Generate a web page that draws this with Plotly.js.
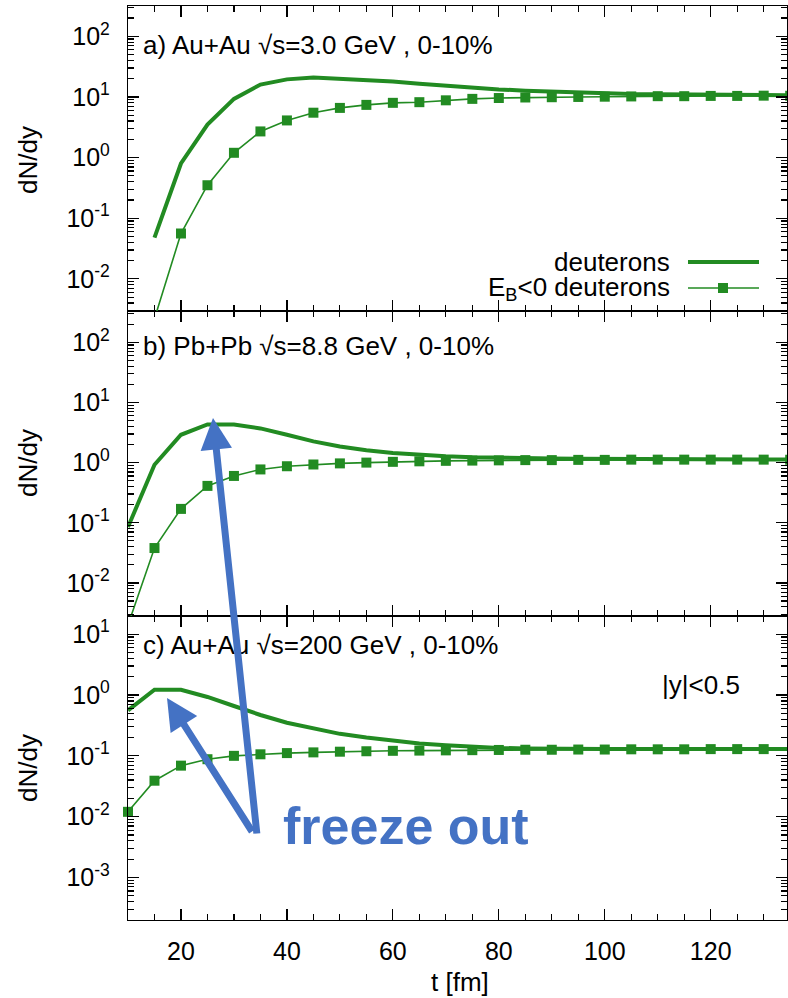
<!DOCTYPE html>
<html><head><meta charset="utf-8">
<script src="https://cdn.plot.ly/plotly-3.0.1.min.js"></script>
<style>html,body{margin:0;padding:0;background:#fff}#chart{width:788px;height:998px}</style>
</head><body><div id="chart"></div>
<script>
// ---- data ----
const tA = [15,20,25,30,35,40,45,50,55,60,65,70,75,80,85,90,95,100,105,110,115,120,125,130,135];
const tBC = [10,15,20,25,30,35,40,45,50,55,60,65,70,75,80,85,90,95,100,105,110,115,120,125,130,135];

const deutA = [0.048,0.8,3.5,9.3,16,19.5,21,20,19,18,16.5,15.2,14.2,13.3,12.7,12.2,11.8,11.4,11.2,11.1,11.0,10.9,10.8,10.8,10.7];
const ebA   = [0.0022,0.056,0.35,1.2,2.7,4.1,5.5,6.6,7.4,8.0,8.2,8.8,9.3,9.6,9.8,9.9,10.0,10.1,10.2,10.3,10.3,10.4,10.4,10.5,10.5];

const deutB = [0.085,0.92,2.9,4.3,4.3,3.7,2.9,2.25,1.85,1.6,1.45,1.35,1.28,1.23,1.2,1.18,1.17,1.16,1.15,1.15,1.14,1.14,1.13,1.13,1.13,1.13];
const ebB   = [0.002,0.038,0.17,0.41,0.6,0.77,0.87,0.93,0.97,1.0,1.03,1.05,1.07,1.08,1.09,1.1,1.1,1.11,1.11,1.12,1.12,1.12,1.12,1.12,1.12,1.12];

const deutC = [0.56,1.22,1.22,0.93,0.66,0.47,0.35,0.28,0.23,0.2,0.18,0.16,0.15,0.14,0.135,0.132,0.13,0.13,0.13,0.13,0.13,0.13,0.13,0.13,0.13,0.13];
const ebC   = [0.012,0.039,0.069,0.088,0.1,0.106,0.111,0.114,0.117,0.119,0.121,0.122,0.123,0.124,0.125,0.126,0.126,0.127,0.127,0.128,0.128,0.128,0.129,0.129,0.129,0.13];

const xTickVals = [20,40,60,80,100,120];
const xTickText = ['20','40','60','80','100','120'];
const yTickValsAB = [0.01,0.1,1,10,100];
const yTickTextAB = ['10<sup>-2</sup>','10<sup>-1</sup>','10<sup>0</sup>','10<sup>1</sup>','10<sup>2</sup>'];
const yTickValsC = [0.001,0.01,0.1,1,10];
const yTickTextC = ['10<sup>-3</sup>','10<sup>-2</sup>','10<sup>-1</sup>','10<sup>0</sup>','10<sup>1</sup>'];

const panelTitles = ['a) Au+Au \u221As=3.0 GeV , 0-10%','b) Pb+Pb \u221As=8.8 GeV , 0-10%','c) Au+Au \u221As=200 GeV , 0-10%'];
const legendNames = ['deuterons','E<sub>B</sub><0 deuterons'];

// ---- style ----
const GREEN = '#228B22';
const BLUE = '#4472C4';
const FONT = '"Liberation Sans", Arial, Helvetica, sans-serif';
const TXT = 26;

function minorVals(lo, hi){
  const out=[];
  for(let e=lo;e<=hi;e++){ for(let m=2;m<=9;m++){ out.push(m*Math.pow(10,e)); } }
  return out;
}

function thick(x,y,xa,ya){ return {x:x,y:y,xaxis:xa,yaxis:ya,mode:'lines',line:{color:GREEN,width:4},showlegend:false}; }
function thin(x,y,xa,ya,clip){ return {x:x,y:y,xaxis:xa,yaxis:ya,mode:'lines+markers',line:{color:GREEN,width:1.6},marker:{symbol:'square',size:10,color:GREEN},cliponaxis:clip,showlegend:false}; }

const traces = [
  thick(tA,deutA,'x3','y3'), thin(tA,ebA,'x3','y3',true),
  thick(tBC,deutB,'x2','y2'), thin(tBC,ebB,'x2','y2',true),
  thick(tBC,deutC,'x','y'), thin(tBC,ebC,'x','y',false)
];

function xax(anchor, labels){
  return {anchor:anchor, range:[10,134.4], showline:true, linecolor:'#000', linewidth:1.2, mirror:'allticks',
    ticks:'inside', ticklen:11, tickwidth:1.2, tickcolor:'#000', tickmode:'array', tickvals:xTickVals, ticktext:xTickText,
    showticklabels:labels, showgrid:false, zeroline:false, ticklabelstandoff:9,
    minor:{tickmode:'linear', tick0:0, dtick:5, ticks:'inside', ticklen:6, tickwidth:1.2, tickcolor:'#000', showgrid:false},
    tickfont:{family:FONT,size:25,color:'#000'}, fixedrange:true};
}
function yax(domain, range, tv, tt, lo, hi){
  return {domain:domain, type:'log', range:range, showline:true, linecolor:'#000', linewidth:1.2, mirror:'allticks',
    ticks:'inside', ticklen:11, tickwidth:1.2, tickcolor:'#000', tickmode:'array', tickvals:tv, ticktext:tt,
    showgrid:false, zeroline:false, ticklabelstandoff:12,
    minor:{tickmode:'array', tickvals:minorVals(lo,hi), ticks:'inside', ticklen:6, tickwidth:1.2, tickcolor:'#000', showgrid:false},
    tickfont:{family:FONT,size:25,color:'#000'}, fixedrange:true};
}

// paper coordinate helpers (plot area 128..787 x, 6..920 y)
const PX = p => (p-128)/659;
const PY = p => (920-p)/914;

function label(text, x, y, xanchor, size, extra){
  return Object.assign({text:text, xref:'paper', yref:'paper', x:PX(x), y:PY(y), xanchor:xanchor, yanchor:'middle', showarrow:false, font:{family:FONT,size:size,color:'#000'}}, extra||{});
}

const annotations = [
  label(panelTitles[0], 141, 45, 'left', TXT),
  label(panelTitles[1], 141, 346, 'left', TXT),
  label(panelTitles[2], 141, 645, 'left', TXT),
  label('|y|<0.5', 701, 685, 'center', TXT),
  label(legendNames[0], 672, 262, 'right', TXT),
  label(legendNames[1], 672, 288, 'right', TXT),
  label('dN/dy', 28, 160, 'center', TXT, {textangle:-90}),
  label('dN/dy', 28, 463, 'center', TXT, {textangle:-90}),
  label('dN/dy', 28, 768, 'center', TXT, {textangle:-90}),
  label('t [fm]', 460, 982, 'center', TXT),
  {text:'<b>freeze out</b>', xref:'paper', yref:'paper', x:PX(406), y:PY(826), xanchor:'center', yanchor:'middle', showarrow:false, font:{family:FONT,size:52,color:BLUE}},
  {text:'', xref:'paper', yref:'paper', x:PX(213), y:PY(418), ax:44, ay:417, axref:'pixel', ayref:'pixel', showarrow:true, arrowhead:2, arrowsize:0.9, arrowwidth:7, arrowcolor:BLUE, standoff:0},
  {text:'', xref:'paper', yref:'paper', x:PX(167), y:PY(698), ax:86, ay:135, axref:'pixel', ayref:'pixel', showarrow:true, arrowhead:2, arrowsize:0.9, arrowwidth:7, arrowcolor:BLUE, standoff:0}
];

const shapes = [
  {type:'line', xref:'paper', yref:'paper', x0:PX(688), x1:PX(759), y0:PY(262), y1:PY(262), line:{color:GREEN,width:4}},
  {type:'line', xref:'paper', yref:'paper', x0:PX(688), x1:PX(759), y0:PY(288), y1:PY(288), line:{color:GREEN,width:1.6}},
  {type:'rect', xref:'paper', yref:'paper', x0:PX(718), x1:PX(728), y0:PY(293), y1:PY(283), fillcolor:GREEN, line:{width:0}}
];

const layout = {
  width:788, height:998, margin:{l:128, r:1, t:6, b:78},
  paper_bgcolor:'#fff', plot_bgcolor:'#fff', showlegend:false,
  font:{family:FONT, color:'#000'},
  xaxis: xax('y', true),
  xaxis2: xax('y2', false),
  xaxis3: xax('y3', false),
  yaxis: yax([0,0.3326], [-3.7,1.3], yTickValsC, yTickTextC, -4, 1),
  yaxis2: yax([0.3326,0.6663], [-2.55,2.52], yTickValsAB, yTickTextAB, -3, 2),
  yaxis3: yax([0.6663,1], [-2.53,2.5], yTickValsAB, yTickTextAB, -3, 2),
  annotations: annotations, shapes: shapes
};

Plotly.newPlot('chart', traces, layout, {staticPlot:true, displayModeBar:false});
</script>
</body></html>
